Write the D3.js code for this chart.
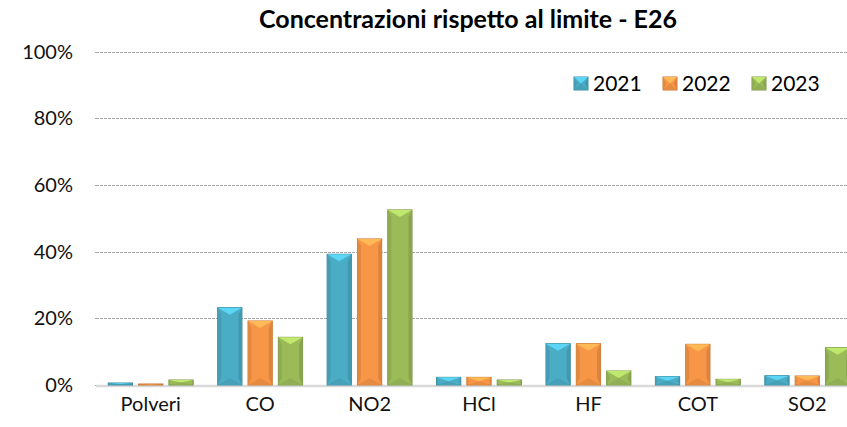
<!DOCTYPE html>
<meta charset="utf-8">
<style>
  body { margin: 0; background: #fff; }
  * { font-family: Lato, "Open Sans", sans-serif; }
</style>
<body>
<svg id="chart" width="847" height="427"></svg>
<script src="https://d3js.org/d3.v7.min.js"></script>
<script>

// categories and series (percent of the limit)
var categories = ["Polveri", "CO", "NO2", "HCl", "HF", "COT", "SO2"];
var years = ["2021", "2022", "2023"];
var values2021 = [0.6, 23.2, 39.2, 2.3, 12.4, 2.5, 2.8];
var values2022 = [0.3, 19.2, 43.8, 2.3, 12.4, 12.2, 2.7];
var values2023 = [1.5, 14.3, 52.5, 1.5, 4.2, 1.7, 11.2];
var yTicks = [0, 20, 40, 60, 80, 100];

var colors = { "2021": "#4BACC6", "2022": "#F79646", "2023": "#9BBB59" };
var series = { "2021": values2021, "2022": values2022, "2023": values2023 };

var svg = d3.select("#chart");

var plotLeft = 96, plotRight = 862, plotTop = 51.5, plotBottom = 385;

var x = d3.scaleBand().domain(categories).range([plotLeft, plotRight])
  .paddingInner(0.224).paddingOuter(0.112);
var xs = d3.scaleBand().domain(years).range([0, x.bandwidth()]).padding(0.2).paddingOuter(0);
var y = d3.scaleLinear().domain([0, 100]).range([plotBottom, plotTop]);

// title
svg.append("text")
  .attr("x", 468).attr("y", 28)
  .attr("text-anchor", "middle")
  .style("font-weight", "bold")
  .style("font-size", "25px")
  .attr("fill", "#000")
  .text("Concentrazioni rispetto al limite - E26");

// gridlines
svg.append("g").selectAll("line")
  .data(yTicks.filter(function(d) { return d > 0; }))
  .enter().append("line")
  .attr("x1", plotLeft).attr("x2", 847)
  .attr("y1", function(d) { return Math.round(y(d)) + 0.5; })
  .attr("y2", function(d) { return Math.round(y(d)) + 0.5; })
  .attr("stroke", "#a6a6a6")
  .attr("stroke-dasharray", "3,1");

// y axis labels + small ticks
var yAxis = svg.append("g");
yAxis.selectAll("text")
  .data(yTicks).enter().append("text")
  .attr("x", 73)
  .attr("y", function(d) { return y(d); })
  .attr("dy", "0.35em")
  .attr("text-anchor", "end")
  .style("font-size", "20px")
  .attr("fill", "#111")
  .text(function(d) { return d + "%"; });
yAxis.selectAll("line")
  .data(yTicks).enter().append("line")
  .attr("x1", plotLeft - 1).attr("x2", plotLeft + 2)
  .attr("y1", function(d) { return Math.round(y(d)) + 0.5; })
  .attr("y2", function(d) { return Math.round(y(d)) + 0.5; })
  .attr("stroke", "#a6a6a6");

// floor
svg.append("line")
  .attr("x1", plotLeft).attr("x2", 847)
  .attr("y1", plotBottom + 1).attr("y2", plotBottom + 1)
  .attr("stroke", "#d9d9d9").attr("stroke-width", 2.5);

// bars with a bevel look
function bevelBar(g, bx, by, w, h, col) {
  var c = d3.color(col);
  var b = Math.min(7, h / 2, w / 2);
  g.append("rect")
    .attr("x", bx).attr("y", by).attr("width", w).attr("height", h)
    .attr("fill", col)
    .attr("stroke", c.darker(0.6)).attr("stroke-width", 1);
  // side strips
  g.append("polygon")
    .attr("points", [[bx, by], [bx + b * 0.5, by + b], [bx + b * 0.5, by + h - b], [bx, by + h]].join(" "))
    .attr("fill", c.darker(0.25));
  g.append("polygon")
    .attr("points", [[bx + w, by], [bx + w - b * 0.5, by + b], [bx + w - b * 0.5, by + h - b], [bx + w, by + h]].join(" "))
    .attr("fill", c.darker(0.35));
  // top chevron
  g.append("polygon")
    .attr("points", [[bx, by], [bx + w, by], [bx + w / 2, by + b]].join(" "))
    .attr("fill", c.brighter(0.6));
  // bottom chevron
  g.append("polygon")
    .attr("points", [[bx, by + h], [bx + w, by + h], [bx + w / 2, by + h - b]].join(" "))
    .attr("fill", c.darker(0.2));
}

var bars = svg.append("g");
categories.forEach(function(cat, i) {
  years.forEach(function(yr) {
    var v = series[yr][i];
    var bx = x(cat) + xs(yr);
    var by = y(v);
    var h = plotBottom - by;
    var g = bars.append("g");
    bevelBar(g, bx, by, xs.bandwidth(), h, colors[yr]);
  });
});

// x labels
svg.append("g").selectAll("text")
  .data(categories).enter().append("text")
  .attr("x", function(d) { return x(d) + x.bandwidth() / 2; })
  .attr("y", 411)
  .attr("text-anchor", "middle")
  .style("font-size", "20px")
  .attr("fill", "#111")
  .text(function(d) { return d; });

// legend
var legendX = [574, 663, 752];
var legend = svg.append("g");
years.forEach(function(yr, i) {
  var lg = legend.append("g");
  bevelBar(lg, legendX[i], 77, 14, 13, colors[yr]);
  lg.append("text")
    .attr("x", legendX[i] + 19).attr("y", 84)
    .attr("dy", "0.35em")
    .style("font-size", "21px")
    .attr("fill", "#000")
    .text(yr);
});

</script>
</body>
